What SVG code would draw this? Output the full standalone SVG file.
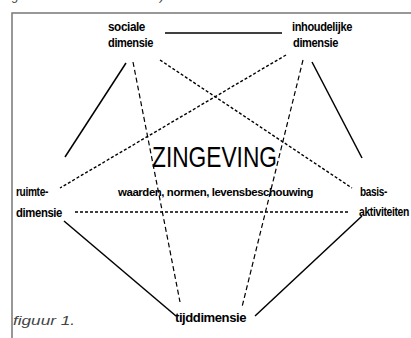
<svg xmlns="http://www.w3.org/2000/svg" width="411" height="338" viewBox="0 0 411 338">
<style>
.lbl{font-family:"Liberation Sans",Arial,sans-serif;font-weight:bold;font-size:12px;fill:#000;letter-spacing:-0.4px}
.sub{font-family:"Liberation Sans",Arial,sans-serif;font-weight:bold;font-size:11px;fill:#000;letter-spacing:-0.4px}
.title{font-family:"Liberation Sans",Arial,sans-serif;font-size:30px;fill:#000}
.cap{font-family:"Liberation Sans",Arial,sans-serif;font-style:italic;font-size:12px;fill:#444}
.solid{stroke:#000;stroke-width:1.5;fill:none}
.dash{stroke:#000;stroke-width:1.4;fill:none;stroke-dasharray:3 2}
.dashv{stroke:#000;stroke-width:1.2;fill:none;stroke-dasharray:5 3}
</style>
<rect width="411" height="338" fill="#fff"/>
<text class="cap" x="12" y="0" font-size="14">g</text>
<text class="cap" x="160" y="0" font-size="14">)</text>
<path d="M12 340 V13 H415" stroke="#777" stroke-width="1.5" fill="none"/>
<g id="connectors">
<line class="solid" x1="165" y1="33" x2="282" y2="33"/>
<line class="solid" x1="126" y1="63" x2="65" y2="157"/>
<line class="dashv" x1="133" y1="62" x2="180" y2="302"/>
<line class="dash" x1="160" y1="60" x2="352" y2="188"/>
<line class="dash" x1="286" y1="55" x2="60" y2="188"/>
<line class="dashv" x1="303" y1="60" x2="242" y2="307"/>
<line class="solid" x1="312" y1="62" x2="362" y2="158"/>
<line class="dash" x1="75" y1="212" x2="348" y2="212"/>
<line class="solid" x1="64" y1="221" x2="176" y2="316"/>
<line class="solid" x1="362" y1="216" x2="255" y2="316"/>
</g>
<g id="sociale">
<text class="lbl" x="108" y="31" textLength="37" lengthAdjust="spacingAndGlyphs">sociale</text>
<text class="lbl" x="108" y="47" textLength="45" lengthAdjust="spacingAndGlyphs">dimensie</text>
</g>
<g id="inhoudelijke">
<text class="lbl" x="292" y="31" textLength="60" lengthAdjust="spacingAndGlyphs">inhoudelijke</text>
<text class="lbl" x="293" y="47" textLength="45" lengthAdjust="spacingAndGlyphs">dimensie</text>
</g>
<g id="ruimte">
<text class="lbl" x="16" y="196" textLength="32" lengthAdjust="spacingAndGlyphs">ruimte-</text>
<text class="lbl" x="16" y="217" textLength="46" lengthAdjust="spacingAndGlyphs">dimensie</text>
</g>
<g id="basis">
<text class="lbl" x="360" y="196" textLength="27" lengthAdjust="spacingAndGlyphs">basis-</text>
<text class="lbl" x="359" y="216" textLength="50" lengthAdjust="spacingAndGlyphs">aktiviteiten</text>
</g>
<g id="tijd">
<text class="lbl" x="175" y="322" textLength="71" lengthAdjust="spacingAndGlyphs">tijddimensie</text>
</g>
<g id="zingeving">
<text class="title" x="152" y="167" textLength="125" lengthAdjust="spacingAndGlyphs">ZINGEVING</text>
<text class="sub" x="118" y="196" textLength="195" lengthAdjust="spacingAndGlyphs">waarden, normen, levensbeschouwing</text>
</g>
<text class="cap" x="13" y="325" textLength="62" lengthAdjust="spacingAndGlyphs">figuur 1.</text>
</svg>
